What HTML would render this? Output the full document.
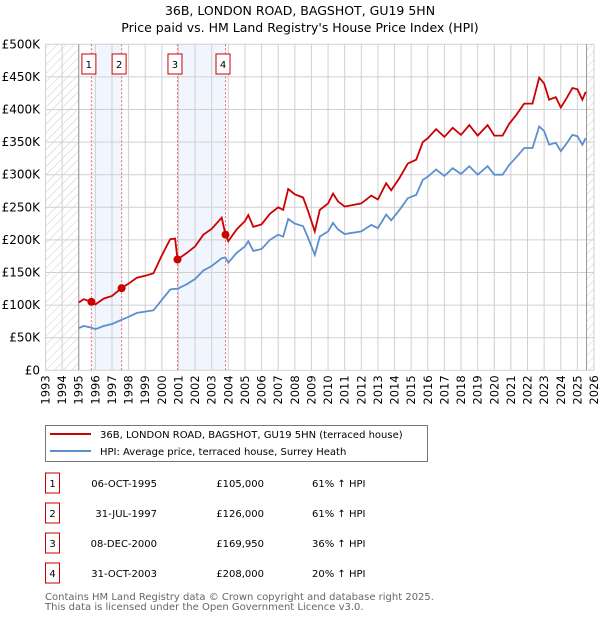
<!DOCTYPE html>
<html><head><meta charset="utf-8"><style>
body{margin:0;background:#fff;width:600px;height:620px;overflow:hidden}
svg{font-family:"DejaVu Sans","Liberation Sans",sans-serif}
</style></head><body>
<svg id="c" width="600" height="620" xmlns="http://www.w3.org/2000/svg">
<defs><pattern id="hatch" width="6" height="6" patternUnits="userSpaceOnUse" patternTransform="rotate(45)"><line x1="0" y1="0" x2="0" y2="6" stroke="#ccc" stroke-width="1"/></pattern></defs>
<text x="300" y="15" text-anchor="middle" font-size="12.5">36B, LONDON ROAD, BAGSHOT, GU19 5HN</text>
<text x="300" y="32" text-anchor="middle" font-size="12.5">Price paid vs. HM Land Registry's House Price Index (HPI)</text>
<g id="plot"></g>
<g>
<rect x="45.5" y="425.5" width="382" height="36" fill="#fff" stroke="#777"/>
<line x1="50" y1="434" x2="91" y2="434" stroke="#cc0000" stroke-width="2"/>
<text x="100" y="438" font-size="10">36B, LONDON ROAD, BAGSHOT, GU19 5HN (terraced house)</text>
<line x1="50" y1="451" x2="91" y2="451" stroke="#5b8fd0" stroke-width="2"/>
<text x="100" y="455" font-size="10">HPI: Average price, terraced house, Surrey Heath</text>
</g>
<g id="table" font-size="10"></g>
<text x="45" y="600" font-size="10" fill="#666">Contains HM Land Registry data © Crown copyright and database right 2025.</text>
<text x="45" y="610" font-size="10" fill="#666">This data is licensed under the Open Government Licence v3.0.</text>
</svg>
<script>
const hpiDates=[1995.0,1995.3,1995.76,1996.0,1996.5,1997.0,1997.58,1998.0,1998.5,1999.0,1999.5,2000.0,2000.5,2000.8,2000.94,2001.5,2002.0,2002.5,2003.0,2003.6,2003.83,2004.0,2004.5,2005.0,2005.2,2005.5,2006.0,2006.5,2007.0,2007.3,2007.6,2008.0,2008.5,2008.8,2009.2,2009.5,2010.0,2010.3,2010.6,2011.0,2012.0,2012.6,2013.0,2013.5,2013.8,2014.3,2014.8,2015.3,2015.7,2016.0,2016.5,2017.0,2017.5,2018.0,2018.5,2019.0,2019.6,2020.0,2020.5,2020.9,2021.3,2021.8,2022.3,2022.7,2023.0,2023.3,2023.7,2024.0,2024.3,2024.7,2025.0,2025.3,2025.5];
const hpiValues=[64.5,68,65.5,63,68,71,77.5,82,88,90,92,108,124,125,125,132,140,153,160,172,173,165,180,190,198,183,186,200,208,205,232,225,221,203,177,205,213,226,216,209,213,223,218,239,230,246,264,269,292,297,308,298,310,301,313,300,313,300,300,315,326,341,341,374,367,346,349,336,346,361,359,346,356];
const propertyValues=[104,109,105,101,110,114,126,133,142,145,149,176,201,202,170,180,190,208,217,234,208,198,216,229,238,220,224,240,250,246,278,270,265,244,213,246,256,271,259,251,256,268,262,287,276,295,317,323,350,356,370,358,372,361,376,360,376,360,360,378,391,409,409,449,440,415,419,403,415,433,431,415,427];
const saleDates=[1995.76,1997.58,2000.94,2003.83];
const salePrices=[105,126,169.95,208];
const saleLabels=["1","2","3","4"];
const saleDateText=["06-OCT-1995","31-JUL-1997","08-DEC-2000","31-OCT-2003"];
const salePriceText=["£105,000","£126,000","£169,950","£208,000"];
const saleHpiText=["61% ↑ HPI","61% ↑ HPI","36% ↑ HPI","20% ↑ HPI"];
const yTicks=[0,50,100,150,200,250,300,350,400,450,500];
const yTickLabels=["£0","£50K","£100K","£150K","£200K","£250K","£300K","£350K","£400K","£450K","£500K"];

const X0=45.5,X1=594,Y0=370.3,Y1=44.3,yr0=1993,yr1=2026;
const xs=t=>X0+(t-yr0)*(X1-X0)/(yr1-yr0);
const ys=v=>Y0-(v/500)*(Y0-Y1);
const NS="http://www.w3.org/2000/svg";
const plot=document.getElementById('plot');
function mk(tag,attrs,parent){const e=document.createElementNS(NS,tag);for(const k in attrs)e.setAttribute(k,attrs[k]);(parent||plot).appendChild(e);return e;}

let h1=mk('rect',{x:X0,y:Y1,width:xs(1995)-X0,height:Y0-Y1,fill:'url(#hatch)'});


let h2=mk('rect',{x:xs(2025.55),y:Y1,width:X1-xs(2025.55),height:Y0-Y1,fill:'url(#hatch)'});


for(let i=0;i<saleDates.length;i+=2){
  let b=mk('rect',{x:xs(saleDates[i]),y:Y1,width:xs(saleDates[i+1])-xs(saleDates[i]),height:Y0-Y1,fill:'#f1f5fd'});
  
  
}
for(let y=yr0;y<=yr1;y++){
  let g=mk('line',{x1:xs(y),x2:xs(y),y1:Y1,y2:Y0,stroke:'#d0d0d0','stroke-width':1});
  
  
  let t=mk('text',{x:0,y:0,'font-size':11.5,'text-anchor':'end',transform:`translate(${xs(y)+4},${Y0+5}) rotate(-90)`});
  t.textContent=y;
  
  
}
yTicks.forEach((v,i)=>{
  let g=mk('line',{x1:X0,x2:X1,y1:ys(v),y2:ys(v),stroke:'#d0d0d0','stroke-width':1});
  
  
  let t=mk('text',{x:40,y:ys(v)+4,'font-size':12,'text-anchor':'end'});
  t.textContent=yTickLabels[i];
  
  
});
let a1=mk('line',{x1:xs(1995),x2:xs(1995),y1:Y1,y2:Y0,stroke:'#999'});


let a2=mk('line',{x1:xs(2025.55),x2:xs(2025.55),y1:Y1,y2:Y0,stroke:'#999'});


saleDates.forEach((d,i)=>{
  let l=mk('line',{x1:xs(d),x2:xs(d),y1:Y1,y2:Y0,stroke:'#ee6666','stroke-dasharray':'2,2'});
  
  
  const bx=xs(d)-9.5, by=54;
  let r=mk('rect',{x:bx,y:by,width:14,height:20,fill:'#fff',stroke:'#cc0000'});
  
  
  let t=mk('text',{x:bx+7,y:by+14,'font-size':10,'text-anchor':'middle'});
  t.textContent=saleLabels[i];
  
  
});
const pts=(vals)=>hpiDates.map((d,i)=>xs(d).toFixed(1)+','+ys(vals[i]).toFixed(1)).join(' ');
let hl=mk('polyline',{points:pts(hpiValues),fill:'none',stroke:'#5b8fd0','stroke-width':1.8});


let pl=mk('polyline',{points:pts(propertyValues),fill:'none',stroke:'#cc0000','stroke-width':1.8});


saleDates.forEach((d,i)=>{
  let c=mk('circle',{cx:xs(d),cy:ys(salePrices[i]),r:4,fill:'#cc0000'});
  
  
});
const tb=document.getElementById('table');
saleDates.forEach((d,i)=>{
  const cy=483+i*30;
  let r=mk('rect',{x:45.5,y:cy-10,width:14,height:20,fill:'#fff',stroke:'#cc0000'},tb);
  
  
  let n=mk('text',{x:52.5,y:cy+4,'text-anchor':'middle'},tb);
  n.textContent=saleLabels[i];
  
  
  let a=mk('text',{x:157,y:cy+4,'text-anchor':'end'},tb);
  a.textContent=saleDateText[i];
  
  
  let p=mk('text',{x:264,y:cy+4,'text-anchor':'end'},tb);
  p.textContent=salePriceText[i];
  
  
  let h=mk('text',{x:312,y:cy+4},tb);
  h.textContent=saleHpiText[i];
  
  
});
</script>
</body></html>
